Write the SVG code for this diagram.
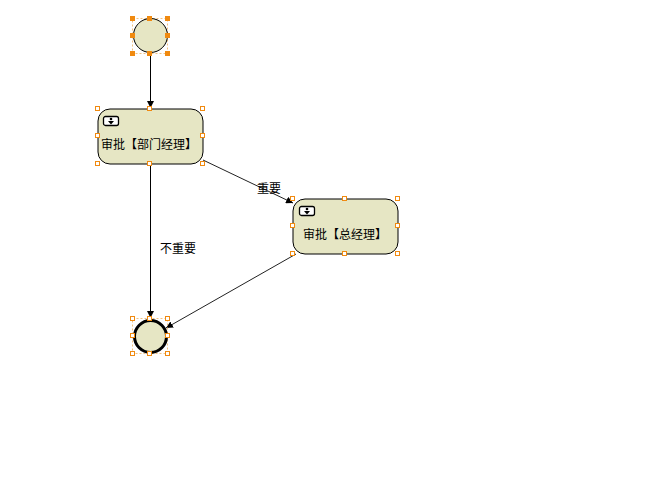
<svg xmlns="http://www.w3.org/2000/svg" width="657" height="497" viewBox="0 0 657 497">
<style>
text{font-family:"Noto Sans CJK SC","Liberation Sans",sans-serif;font-size:12px;fill:#000}
.n{fill:#e6e6c4;stroke:#000;stroke-width:1}
.h rect{fill:#fff;stroke:#f08a10;stroke-width:1;width:4px;height:4px}
.hf rect{fill:#f08a10;stroke:#f08a10;stroke-width:1;width:4px;height:4px}
.sel{fill:none;stroke:#f0c080;stroke-width:1;stroke-dasharray:2 2}
.c{fill:none;stroke:#000;stroke-width:1;marker-end:url(#a)}
.c2{fill:none;stroke:#222;stroke-width:1;marker-end:url(#a)}
.ic{fill:#fff;stroke:#000;stroke-width:1.300}
</style>
<defs>
<marker id="a" viewBox="0 0 10 10" refX="10" refY="5" markerUnits="userSpaceOnUse" markerWidth="7" markerHeight="7" orient="auto"><path d="M0 0L10 5L0 10z" fill="#000"/></marker>
<g id="icon"><rect class="ic" x="0" y="0" width="15" height="9" rx="2"/><circle cx="7.500" cy="2.500" r="1.300" fill="#000"/><path d="M4.500 4.500h6l-3 3.500z" fill="#000"/></g>
</defs>
<rect width="657" height="497" fill="#fff"/>
<g id="connectors">
<path class="c" d="M150.500 54V108"/>
<path class="c2" d="M203 160L293 203"/>
<path class="c" d="M150.500 164V318"/>
<path class="c2" d="M296 254L166 328"/>
</g>
<g id="start">
<rect class="sel" x="132.500" y="18.500" width="35" height="35"/>
<circle class="n" cx="150.500" cy="35.500" r="17"/>
<g class="hf"><rect x="130.500" y="16.500"/><rect x="147.500" y="16.500"/><rect x="165.500" y="16.500"/><rect x="130.500" y="33.500"/><rect x="165.500" y="33.500"/><rect x="130.500" y="51.500"/><rect x="147.500" y="51.500"/><rect x="165.500" y="51.500"/></g>
</g>
<g id="task1">
<rect class="n" x="98" y="109" width="105" height="55" rx="12"/>
<use href="#icon" x="103.500" y="116.500"/>
<text x="101" y="149">审批【部门经理】</text>
<g class="h"><rect x="95.500" y="106.500"/><rect x="147.500" y="106.500"/><rect x="200.500" y="106.500"/><rect x="95.500" y="133.500"/><rect x="200.500" y="133.500"/><rect x="95.500" y="161.500"/><rect x="147.500" y="161.500"/><rect x="200.500" y="161.500"/></g>
</g>
<g id="task2">
<rect class="n" x="293" y="199" width="105" height="55" rx="12"/>
<use href="#icon" x="299.500" y="206.500"/>
<text x="303" y="239">审批【总经理】</text>
<g class="h"><rect x="290.500" y="196.500"/><rect x="342.500" y="196.500"/><rect x="395.500" y="196.500"/><rect x="290.500" y="223.500"/><rect x="395.500" y="223.500"/><rect x="290.500" y="251.500"/><rect x="342.500" y="251.500"/><rect x="395.500" y="251.500"/></g>
</g>
<g id="end">
<rect class="sel" x="132.500" y="318.500" width="35" height="35"/>
<circle cx="150.500" cy="336.500" r="16" fill="#e6e6c4" stroke="#000" stroke-width="3"/>
<g class="h"><rect x="130.500" y="316.500"/><rect x="147.500" y="316.500"/><rect x="165.500" y="316.500"/><rect x="130.500" y="333.500"/><rect x="165.500" y="333.500"/><rect x="130.500" y="351.500"/><rect x="147.500" y="351.500"/><rect x="165.500" y="351.500"/></g>
</g>
<g id="labels">
<text x="257" y="193">重要</text>
<text x="160" y="253">不重要</text>
</g>
</svg>
